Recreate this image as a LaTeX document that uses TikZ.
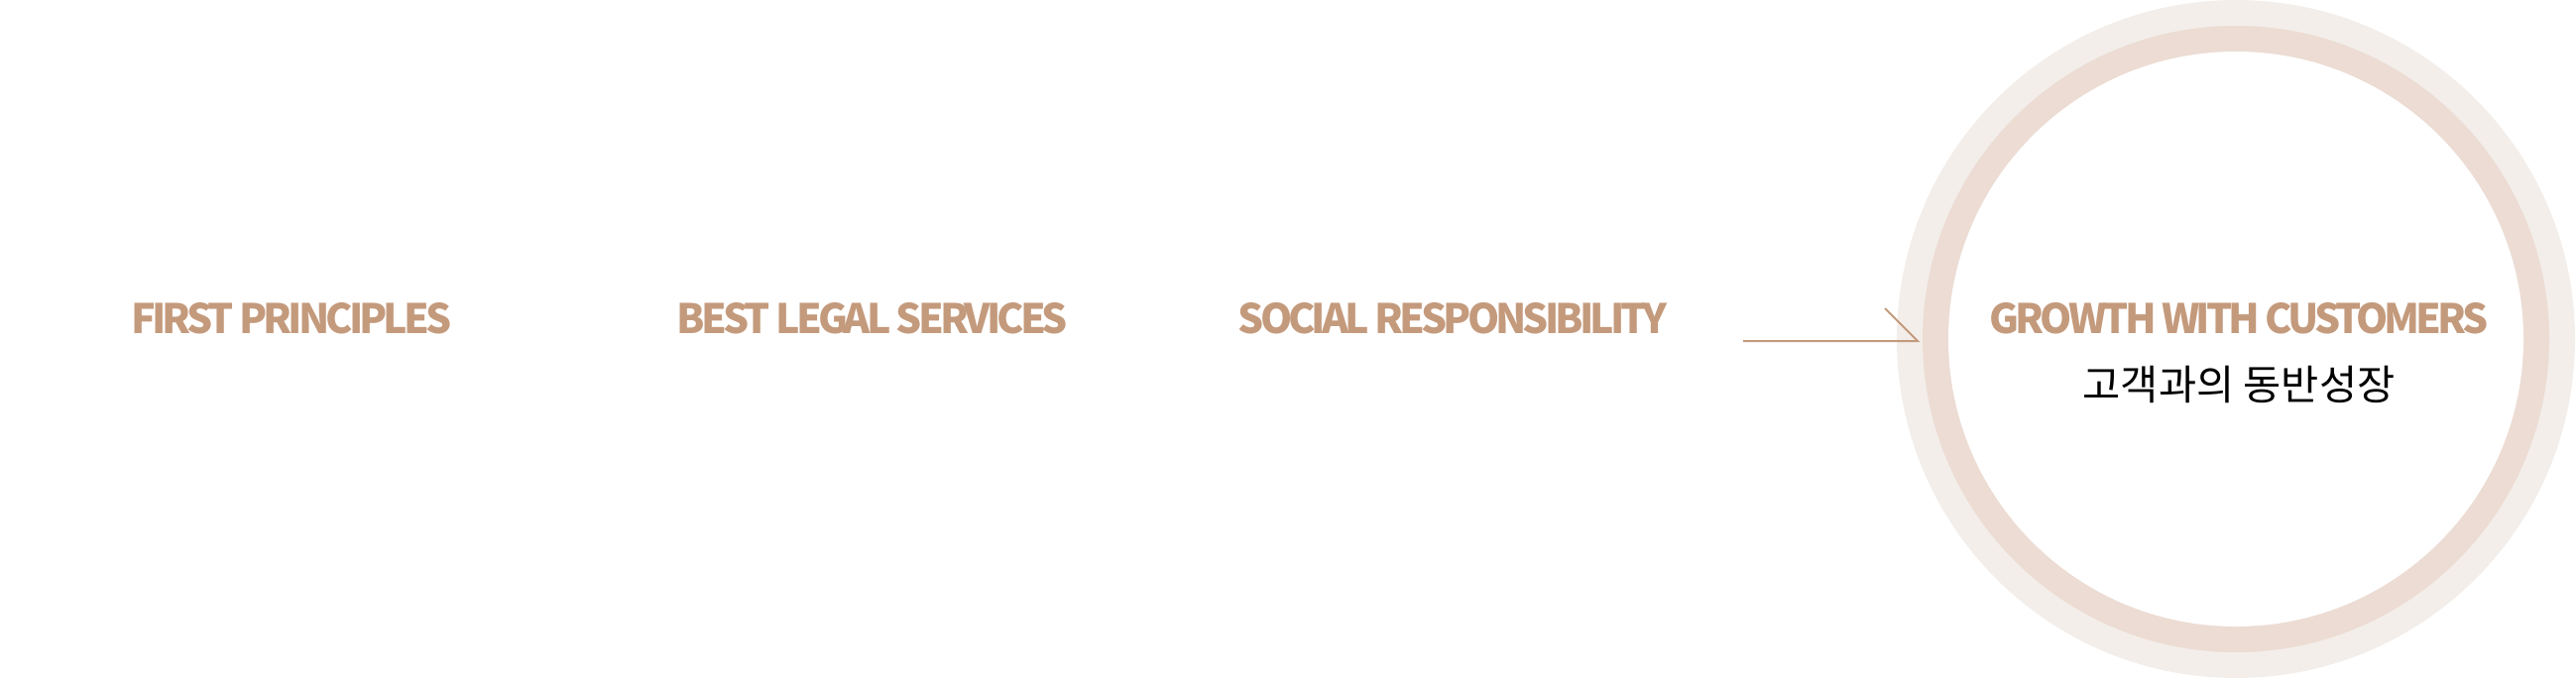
\documentclass[tikz,border=0pt]{standalone}
\usepackage{fontspec}
\usepackage{tikz}
\usetikzlibrary{positioning}
\newfontfamily\krfont{Noto Sans CJK KR}
\newfontfamily\capfont[LetterSpace=-9.5]{Noto Sans CJK KR}
\definecolor{tan}{HTML}{C49A7C}
\definecolor{ringout}{HTML}{F3EEEA}
\definecolor{ringmid}{HTML}{ECDCD3}
\tikzset{ value/.style={font=\capfont\bfseries\fontsize{41}{48}\selectfont,text=tan,anchor=base,inner sep=0pt},
  disc/.style={circle,inner sep=0pt,minimum size=#1} }

\begin{document}
\begin{tikzpicture}[x=1pt,y=-1pt]
  \useasboundingbox (0,0) rectangle (2598,686);
  \node[disc=684pt,fill=ringout] (outer) at (2255,342) {};
  \node[disc=632pt,fill=ringmid] (mid) at (2255,342) {};
  \node[disc=580pt,fill=white] (inner) at (2255,342) {};
  \node[value] (v1) at (294,336) {FIRST PRINCIPLES};
  \node[value] (v2) at (880,336) {BEST LEGAL SERVICES};
  \node[value] (v3) at (1465,336) {SOCIAL RESPONSIBILITY};
  \node[value] (v4) at (2258,336) {GROWTH WITH CUSTOMERS};
  \node[font=\krfont\fontsize{41.5}{48}\selectfont,anchor=base,inner sep=0pt] (v4kr) at (2258,403) {고객과의 동반성장};
  \coordinate (tail) at (1758,344);
  \coordinate (tip) at (1934,344);
  \coordinate (barb) at (1901,311);
  \draw[tan,line width=2pt] (tail) -- (tip) -- (barb);
\end{tikzpicture}
\end{document}
